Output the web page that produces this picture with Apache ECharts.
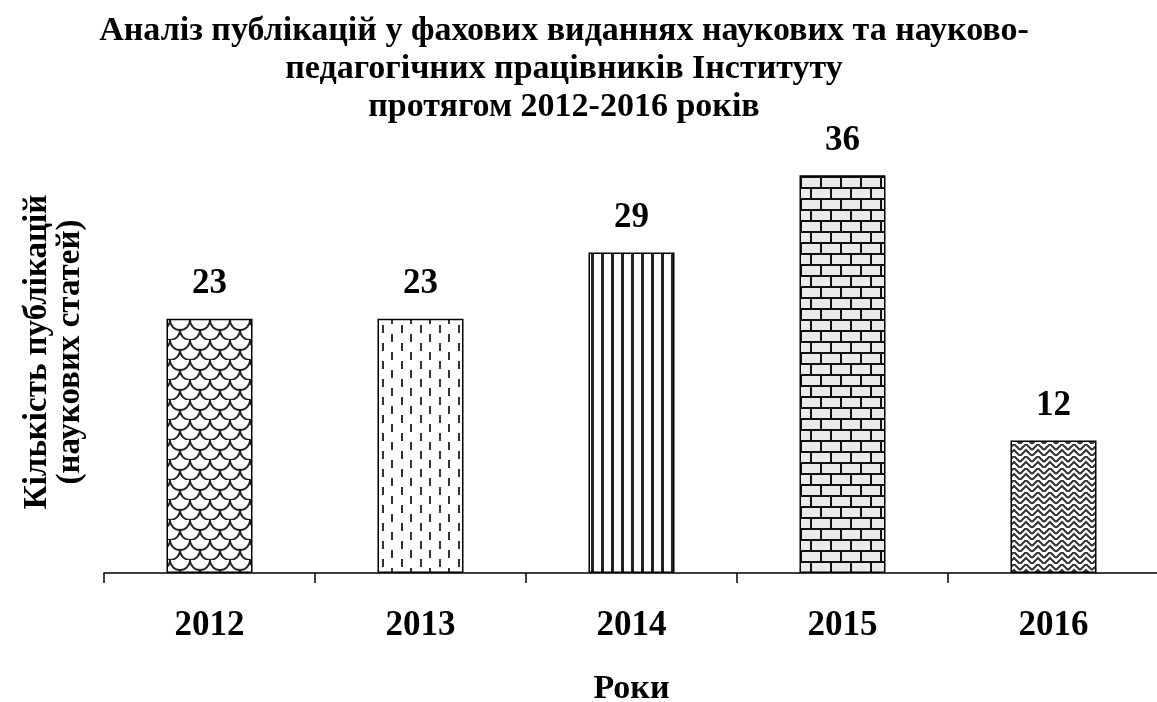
<!DOCTYPE html>
<html>
<head>
<meta charset="utf-8">
<script src="https://cdn.jsdelivr.net/npm/echarts@6/dist/echarts.min.js"></script>
<style>
  html, body { margin: 0; padding: 0; background: #fff; }
  #chart { width: 1157px; height: 702px; }
</style>
</head>
<body>
<div id="chart"></div>
<script>
var years = ['2012', '2013', '2014', '2015', '2016'];
var counts = [23, 23, 29, 36, 12];

var titleText = 'Аналіз публікацій у фахових виданнях наукових та науково-\nпедагогічних працівників Інституту\nпротягом 2012-2016 років';
var yName = 'Кількість публікацій\n(наукових статей)';
var xName = 'Роки';

var FONT = '"Liberation Serif", "Times New Roman", serif';

// small canvas tiles for the hatch fills
function tile(w, h, draw) {
    var c = document.createElement('canvas');
    c.width = w;
    c.height = h;
    var ctx = c.getContext('2d');
    ctx.fillStyle = '#fff';
    ctx.fillRect(0, 0, w, h);
    draw(ctx);
    return c;
}

var scales = tile(20, 20, function (ctx) {
    ctx.strokeStyle = '#222';
    ctx.lineWidth = 1.8;
    [[0, 0], [20, 0], [10, 10], [0, 20], [20, 20]].forEach(function (p) {
        ctx.beginPath();
        ctx.arc(p[0], p[1], 10, 0, Math.PI);
        ctx.stroke();
    });
});

var dashes = tile(19, 18, function (ctx) {
    ctx.fillStyle = '#333';
    ctx.fillRect(2, 1, 2, 8);
    ctx.fillRect(11, 10, 2, 8);
});

var stripes = tile(10, 10, function (ctx) {
    ctx.fillStyle = '#222';
    ctx.fillRect(1, 0, 3, 10);
});

var bricks = tile(20, 22, function (ctx) {
    ctx.fillStyle = '#eaeaea';
    ctx.fillRect(0, 0, 20, 22);
    ctx.fillStyle = '#111';
    ctx.fillRect(0, 0, 20, 2);
    ctx.fillRect(0, 11, 20, 2);
    ctx.fillRect(0, 0, 2, 11);
    ctx.fillRect(10, 11, 2, 11);
});

var herring = tile(12, 12, function (ctx) {
    ctx.strokeStyle = '#333';
    ctx.lineWidth = 2;
    ctx.beginPath();
    ctx.moveTo(0, 6); ctx.lineTo(6, 0); ctx.lineTo(12, 6);
    ctx.moveTo(0, 12); ctx.lineTo(6, 6); ctx.lineTo(12, 12);
    ctx.stroke();
});

var fills = [scales, dashes, stripes, bricks, herring];

var chart = echarts.init(document.getElementById('chart'), null, {renderer: 'canvas'});

var option = {
    backgroundColor: '#fff',
    animation: false,
    title: {
        text: titleText,
        left: 559,
        top: 7,
        textAlign: 'center',
        textStyle: {
            fontFamily: FONT,
            fontWeight: 'bold',
            fontSize: 34,
            lineHeight: 38,
            color: '#000'
        }
    },
    grid: {
        left: 104,
        right: -2,
        top: 131,
        bottom: 129,
        containLabel: false,
        outerBoundsMode: 'none'
    },
    xAxis: {
        type: 'category',
        data: years,
        name: xName,
        nameLocation: 'middle',
        nameGap: 99,
        nameTextStyle: {
            fontFamily: FONT,
            fontWeight: 'bold',
            fontSize: 34,
            color: '#000'
        },
        axisLine: {lineStyle: {color: '#000', width: 1.5}},
        axisTick: {show: true, length: 10, lineStyle: {color: '#000', width: 1.5}},
        axisLabel: {
            margin: 35,
            fontFamily: FONT,
            fontWeight: 'bold',
            fontSize: 35,
            color: '#000'
        }
    },
    yAxis: {
        type: 'value',
        min: 0,
        max: 40,
        name: yName,
        nameLocation: 'middle',
        nameRotate: 90,
        nameGap: 50,
        nameTextStyle: {
            fontFamily: FONT,
            fontWeight: 'bold',
            fontSize: 33,
            lineHeight: 33,
            color: '#000',
            align: 'center',
            verticalAlign: 'middle'
        },
        axisLine: {show: false},
        axisTick: {show: false},
        axisLabel: {show: false},
        splitLine: {show: false}
    },
    series: [{
        type: 'bar',
        barWidth: 86,
        data: counts.map(function (v, i) {
            return {
                value: v,
                itemStyle: {
                    color: {image: fills[i], repeat: 'repeat'},
                    borderColor: '#000',
                    borderWidth: 1.5
                }
            };
        }),
        label: {
            show: true,
            position: 'top',
            distance: 17,
            fontFamily: FONT,
            fontWeight: 'bold',
            fontSize: 35,
            color: '#000'
        }
    }]
};

chart.setOption(option);
</script>
</body>
</html>
